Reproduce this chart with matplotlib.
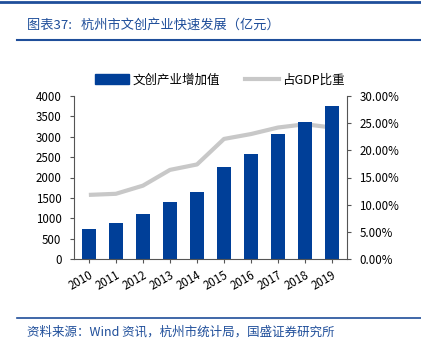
import matplotlib
matplotlib.use("Agg")
import matplotlib.pyplot as plt
from matplotlib.lines import Line2D
from matplotlib.patches import Patch
from matplotlib.ticker import FuncFormatter

plt.rcParams['font.family'] = ['Noto Sans CJK SC', 'DejaVu Sans']

years = ['2010', '2011', '2012', '2013', '2014', '2015', '2016', '2017', '2018', '2019']
value_added = [729, 876, 1097, 1391, 1637, 2258, 2569, 3067, 3370, 3762]
gdp_share = [11.8, 12.0, 13.5, 16.4, 17.4, 22.1, 23.0, 24.2, 24.8, 24.2]

bar_color = '#003F98'
line_color = '#C8C8C8'
title_color = '#1F4E9A'

fig = plt.figure(figsize=(4.21, 3.48), dpi=100)
W, H = 421, 348
ax = fig.add_axes([74 / W, 1 - 259 / H, (347 - 74) / W, (259 - 96) / H])
ax2 = ax.twinx()

x = range(len(years))
ax.bar(x, value_added, width=0.52, color=bar_color, zorder=2)
ax2.plot(x, gdp_share, color=line_color, lw=3, solid_capstyle='butt', zorder=3)
ax.set_zorder(ax2.get_zorder() + 1)
ax.patch.set_visible(False)

ax.set_xlim(-0.55, 9.55)
ax.set_ylim(0, 4000)
ax.set_yticks(range(0, 4001, 500))
ax2.set_ylim(0, 30)
ax2.set_yticks(range(0, 31, 5))
ax2.yaxis.set_major_formatter(FuncFormatter(lambda v, p: f'{v:.2f}%'))

ax.set_xticks(list(x))
ax.set_xticklabels(years, rotation=30, ha='right', va='top', rotation_mode='anchor')

for a in (ax, ax2):
    a.spines['top'].set_visible(False)
    a.tick_params(labelsize=8.3, length=3, width=0.8, colors='#555555', labelcolor='black')
ax.spines['right'].set_visible(False)
ax2.spines['left'].set_visible(False)
ax.spines['left'].set_color('#555555')
ax.spines['bottom'].set_color('#555555')
ax2.spines['right'].set_color('#555555')
ax2.spines['bottom'].set_visible(False)
ax.tick_params(axis='x', length=3, pad=4)
ax.tick_params(axis='y', direction='out', pad=6)
ax2.tick_params(axis='y', direction='out', pad=6)

handles = [Patch(color=bar_color, label='文创产业增加值'),
           Line2D([0], [0], color=line_color, lw=3, label='占GDP比重')]
fig.legend(handles=handles, loc='center', bbox_to_anchor=(220 / W, 1 - 80 / H), ncol=2,
           frameon=False, fontsize=9, handlelength=2.7, handleheight=0.9,
           columnspacing=2.0, handletextpad=0.3)

# decorative lines
fig.add_artist(Line2D([0, 1], [1 - 1.5 / H, 1 - 1.5 / H], color=title_color, lw=2, transform=fig.transFigure))
fig.add_artist(Line2D([17 / W, 1], [1 - 40 / H, 1 - 40 / H], color=title_color, lw=1.5, transform=fig.transFigure))
fig.add_artist(Line2D([17 / W, 1], [1 - 318 / H, 1 - 318 / H], color=title_color, lw=1.2, transform=fig.transFigure))

fig.text(27 / W, 1 - 25 / H, '图表37:   杭州市文创产业快速发展（亿元）', color=title_color,
         fontsize=9.5, style='italic', va='center', ha='left')
fig.text(27 / W, 1 - 332 / H, '资料来源：Wind 资讯，杭州市统计局，国盛证券研究所', color=title_color,
         fontsize=9, style='italic', va='center', ha='left')

fig.savefig('out.png', dpi=100)
